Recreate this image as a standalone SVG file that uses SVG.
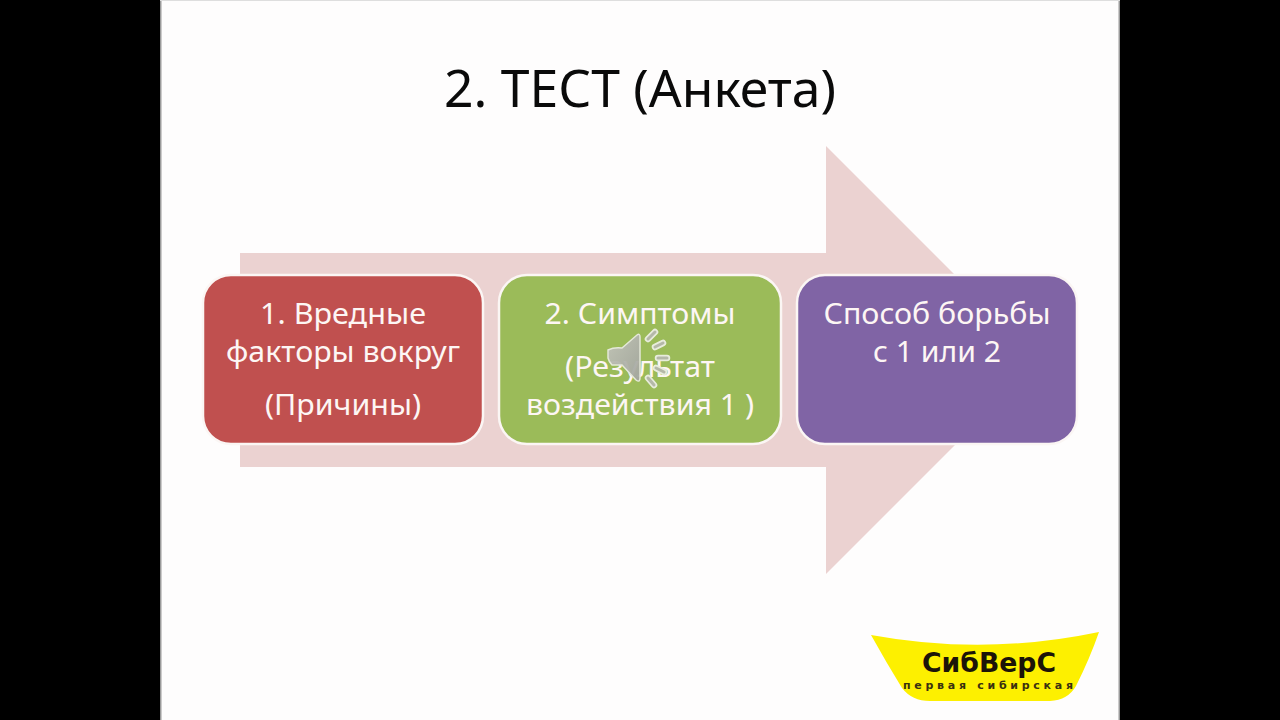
<svg xmlns="http://www.w3.org/2000/svg" width="1280" height="720" viewBox="0 0 1280 720">
<defs><linearGradient id="spk" x1="0" y1="0" x2="1" y2="1"><stop offset="0" stop-color="#c2c4ba"/><stop offset="1" stop-color="#a3a59f"/></linearGradient></defs>
<style>
.t{font-family:"Noto Sans","Open Sans","DejaVu Sans",sans-serif;fill:#fdf6f4;font-size:28.5px;text-anchor:middle}
.box{stroke:#fbf6f4;stroke-width:2.5}
.tick{fill:none;stroke-linecap:round}
</style>
<rect width="1280" height="720" fill="#000"/>
<rect x="160" y="0" width="960" height="720" fill="#fefdfd"/>
<rect x="160" y="0" width="1.5" height="720" fill="#9a9a9a"/>
<rect x="1118.5" y="0" width="1.5" height="720" fill="#9a9a9a"/>
<rect x="160" y="0" width="960" height="1" fill="#dedede"/>
<g id="title"><text x="640" y="107" font-family="Noto Sans, sans-serif" font-size="51" fill="#0a0a0a" text-anchor="middle" textLength="392" lengthAdjust="spacingAndGlyphs">2. ТЕСТ (Анкета)</text></g>
<g id="connectors"><path d="M240 253H826V146L1040 360L826 574V467H240Z" fill="#ebd2d1"/></g>
<g id="node1"><rect class="box" x="203" y="275" width="280" height="169" rx="28" fill="#c0504f"/>
<text class="t" x="343" y="324" textLength="166" lengthAdjust="spacingAndGlyphs">1. Вредные</text>
<text class="t" x="343" y="362" textLength="234" lengthAdjust="spacingAndGlyphs">факторы вокруг</text>
<text class="t" x="343" y="415" textLength="156" lengthAdjust="spacingAndGlyphs">(Причины)</text></g>
<g id="node2"><rect class="box" x="499" y="275" width="282" height="169" rx="28" fill="#9bbb59"/>
<text class="t" x="640" y="324" textLength="191" lengthAdjust="spacingAndGlyphs">2. Симптомы</text>
<text class="t" x="640" y="377" textLength="150" lengthAdjust="spacingAndGlyphs">(Результат</text>
<text class="t" x="640" y="415" textLength="228" lengthAdjust="spacingAndGlyphs">воздействия 1 )</text></g>
<g id="node3"><rect class="box" x="797" y="275" width="280" height="169" rx="28" fill="#8064a5"/>
<text class="t" x="937" y="324" textLength="227" lengthAdjust="spacingAndGlyphs">Способ борьбы</text>
<text class="t" x="937" y="362" textLength="128" lengthAdjust="spacingAndGlyphs">с 1 или 2</text></g>
<g id="speaker-icon">
<path d="M608 350Q614 347 622 348L637 335Q640 333 640 337V378Q640 383 636 380L622 365H612Q609 362 608 358Z" fill="url(#spk)" fill-opacity=".95" stroke="#e4e8d8" stroke-width="1.5"/>
<path class="tick" stroke="#e8ecdc" stroke-width="6.5" d="M648 339L655 332M655 347L663 343M658 358H667M656 368L664 372M648 378L654 385"/>
<path class="tick" stroke="#b4b8a8" stroke-width="3" d="M648 339L655 332M655 347L663 343M658 358H667M656 368L664 372M648 378L654 385"/>
</g>
<g id="logo">
<path d="M871 635Q985 656 1099 632Q1090 658 1076 686Q1068 700 1050 701H930Q912 701 902 688Q886 662 871 635Z" fill="#fdf000"/>
<text x="989" y="672" font-family="DejaVu Sans, sans-serif" font-weight="700" font-size="26" fill="#1c1408" text-anchor="middle" textLength="134" lengthAdjust="spacingAndGlyphs">СибВерС</text>
<text x="988" y="689" font-family="DejaVu Sans, sans-serif" font-weight="700" font-size="11" fill="#3a3010" text-anchor="middle" textLength="170" lengthAdjust="spacing">первая сибирская</text>
</g>
</svg>
